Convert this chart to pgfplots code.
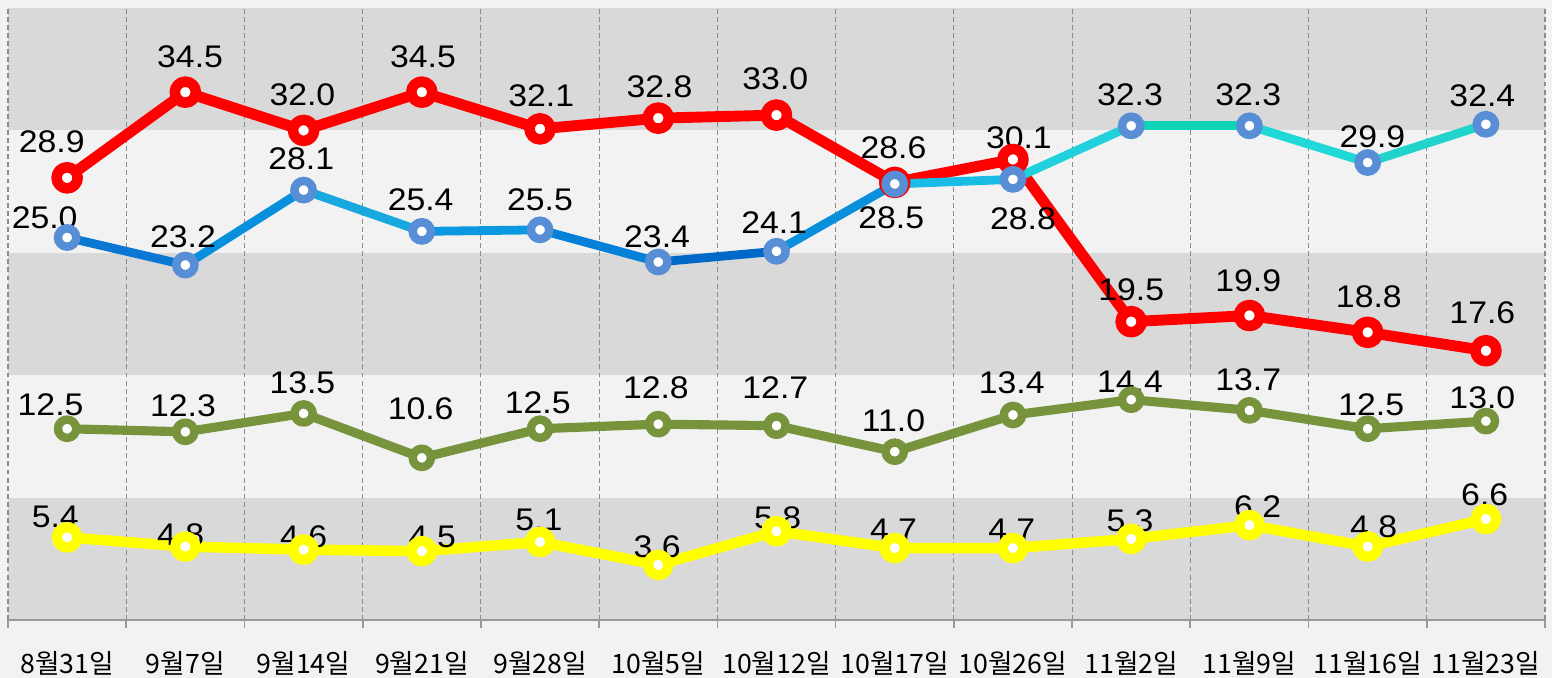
\documentclass[border=0pt]{standalone}
\usepackage{fontspec}
\setmainfont{Liberation Sans}
\newfontfamily\lbl[FakeStretch=1.08]{Liberation Sans}
\newfontfamily\cjk{Noto Sans CJK KR}
\usepackage{pgfplots}
\pgfplotsset{compat=1.18}
\definecolor{bg}{HTML}{F2F2F2}
\definecolor{band}{HTML}{D9D9D9}
\definecolor{gridc}{HTML}{8C8C8C}
\definecolor{axc}{HTML}{999999}
\definecolor{rd}{HTML}{FF0000}
\definecolor{bm}{HTML}{578ED6}
\definecolor{gr}{HTML}{77933C}
\definecolor{yl}{HTML}{FFFF00}
% blue line segments (gradient in the original)
\definecolor{s1}{HTML}{0A78D2}
\definecolor{s2}{HTML}{0890DC}
\definecolor{s3}{HTML}{18A8E0}
\definecolor{s4}{HTML}{0A98E0}
\definecolor{s5}{HTML}{0580D8}
\definecolor{s6}{HTML}{0068C8}
\definecolor{s7}{HTML}{0890DC}
\definecolor{s8}{HTML}{18BCE4}
\definecolor{s9}{HTML}{20D0DC}
\definecolor{s10}{HTML}{10D4B8}
\definecolor{s11}{HTML}{20D8D8}
\definecolor{s12}{HTML}{20D4CC}
\tikzset{
  lab/.style={font=\lbl\fontsize{8.9}{10}\selectfont, inner sep=0pt, anchor=center},
}
\pgfplotsset{
  bseg/.style={line width=2.5pt, line cap=round, mark=none, forget plot},
}

\begin{document}
\begin{tikzpicture}
\begin{axis}[at={(0,0)}, anchor=south west, scale only axis,
  width=15.37cm, height=6.12cm, set layers, clip=false,
  xmin=-0.5, xmax=12.5, ymin=0, ymax=40,
  axis x line*=bottom, axis y line=none,
  axis line style={draw=axc, line width=0.6pt},
  xtick={0,...,12},
  xticklabels={8월31일,9월7일,9월14일,9월21일,9월28일,10월5일,10월12일,10월17일,10월26일,11월2일,11월9일,11월16일,11월23일},
  xticklabel style={font=\cjk\fontsize{7.6}{8}\selectfont, anchor=center, yshift=-0.43cm},
  major tick length=0pt,
  minor xtick={-0.5,0.5,...,12.5},
  minor tick length=0.08cm, tick align=outside,
  tick style={draw=axc, line width=0.5pt},
  xminorgrids=true,
  minor x grid style={draw=gridc, line width=0.3pt, dash pattern=on 1.4pt off 0.9pt},
  ytick=\empty,
]
\begin{pgfonlayer}{axis background}
  \fill[bg] ([shift={(-0.08cm,-0.58cm)}]rel axis cs:0,0) rectangle ([shift={(0.07cm,0.08cm)}]rel axis cs:1,1);
  \fill[band] (axis cs:-0.5,0) rectangle (axis cs:12.5,8);
  \fill[band] (axis cs:-0.5,16) rectangle (axis cs:12.5,24);
  \fill[band] (axis cs:-0.5,32) rectangle (axis cs:12.5,40);
\end{pgfonlayer}

% red
\addplot[rd, line width=3.1pt, line join=round, mark=*, mark size=3.0pt,
  mark options={draw=rd, fill=white, line width=3.0pt}]
  coordinates {(0,28.9)(1,34.5)(2,32.0)(3,34.5)(4,32.1)(5,32.8)(6,33.0)
               (7,28.6)(8,30.1)(9,19.5)(10,19.9)(11,18.8)(12,17.6)};

% blue, drawn segment by segment
\addplot[bseg, s1]  coordinates {(0,25.0)(1,23.2)};
\addplot[bseg, s2]  coordinates {(1,23.2)(2,28.1)};
\addplot[bseg, s3]  coordinates {(2,28.1)(3,25.4)};
\addplot[bseg, s4]  coordinates {(3,25.4)(4,25.5)};
\addplot[bseg, s5]  coordinates {(4,25.5)(5,23.4)};
\addplot[bseg, s6]  coordinates {(5,23.4)(6,24.1)};
\addplot[bseg, s7]  coordinates {(6,24.1)(7,28.5)};
\addplot[bseg, s8]  coordinates {(7,28.5)(8,28.8)};
\addplot[bseg, s9]  coordinates {(8,28.8)(9,32.3)};
\addplot[bseg, s10] coordinates {(9,32.3)(10,32.3)};
\addplot[bseg, s11] coordinates {(10,32.3)(11,29.9)};
\addplot[bseg, s12] coordinates {(11,29.9)(12,32.4)};
\addplot[only marks, mark=*, mark size=2.6pt,
  mark options={draw=bm, fill=white, line width=2.4pt}]
  coordinates {(0,25.0)(1,23.2)(2,28.1)(3,25.4)(4,25.5)(5,23.4)(6,24.1)
               (7,28.5)(8,28.8)(9,32.3)(10,32.3)(11,29.9)(12,32.4)};

% green
\addplot[gr, line width=2.6pt, line join=round, mark=*, mark size=2.6pt,
  mark options={draw=gr, fill=white, line width=2.4pt}]
  coordinates {(0,12.5)(1,12.3)(2,13.5)(3,10.6)(4,12.5)(5,12.8)(6,12.7)
               (7,11.0)(8,13.4)(9,14.4)(10,13.7)(11,12.5)(12,13.0)};

% yellow
\addplot[yl, line width=3.0pt, line join=round, mark=*, mark size=2.9pt,
  mark options={draw=yl, fill=white, line width=2.9pt}]
  coordinates {(0,5.4)(1,4.8)(2,4.6)(3,4.5)(4,5.1)(5,3.6)(6,5.8)
               (7,4.7)(8,4.7)(9,5.3)(10,6.2)(11,4.8)(12,6.6)};

% data labels
\node[lab] at (axis cs:-0.13,31.24) {28.9};
\node[lab] at (axis cs:1.04,36.8) {34.5};
\node[lab] at (axis cs:1.99,34.3) {32.0};
\node[lab] at (axis cs:3.01,36.8) {34.5};
\node[lab] at (axis cs:4.01,34.25) {32.1};
\node[lab] at (axis cs:5.01,34.84) {32.8};
\node[lab] at (axis cs:5.99,35.4) {33.0};
\node[lab] at (axis cs:6.99,30.85) {28.6};
\node[lab] at (axis cs:8.05,31.5) {30.1};
\node[lab] at (axis cs:9.0,21.6) {19.5};
\node[lab] at (axis cs:9.99,22.2) {19.9};
\node[lab] at (axis cs:11.01,21.1) {18.8};
\node[lab] at (axis cs:11.97,20.07) {17.6};

\node[lab] at (axis cs:-0.19,26.27) {25.0};
\node[lab] at (axis cs:0.98,25.03) {23.2};
\node[lab] at (axis cs:1.98,30.13) {28.1};
\node[lab] at (axis cs:2.99,27.45) {25.4};
\node[lab] at (axis cs:4.0,27.45) {25.5};
\node[lab] at (axis cs:4.99,25.03) {23.4};
\node[lab] at (axis cs:5.98,26.0) {24.1};
\node[lab] at (axis cs:6.97,26.3) {28.5};
\node[lab] at (axis cs:8.085,26.2) {28.8};
\node[lab] at (axis cs:8.99,34.3) {32.3};
\node[lab] at (axis cs:9.99,34.3) {32.3};
\node[lab] at (axis cs:11.04,31.57) {29.9};
\node[lab] at (axis cs:11.97,34.25) {32.4};

\node[lab] at (axis cs:-0.14,14.1) {12.5};
\node[lab] at (axis cs:0.98,14.0) {12.3};
\node[lab] at (axis cs:1.99,15.5) {13.5};
\node[lab] at (axis cs:2.99,13.8) {10.6};
\node[lab] at (axis cs:3.98,14.2) {12.5};
\node[lab] at (axis cs:4.98,15.2) {12.8};
\node[lab] at (axis cs:5.99,15.2) {12.7};
\node[lab] at (axis cs:6.99,13.0) {11.0};
\node[lab] at (axis cs:7.99,15.5) {13.4};
\node[lab] at (axis cs:8.99,15.6) {14.4};
\node[lab] at (axis cs:9.99,15.7) {13.7};
\node[lab] at (axis cs:11.03,14.1) {12.5};
\node[lab] at (axis cs:11.97,14.5) {13.0};

\node[lab] at (axis cs:-0.10,6.73) {5.4};
\node[lab] at (axis cs:0.96,5.56) {4.8};
\node[lab] at (axis cs:2.0,5.42) {4.6};
\node[lab] at (axis cs:3.09,5.42) {4.5};
\node[lab] at (axis cs:3.99,6.54) {5.1};
\node[lab] at (axis cs:4.99,4.77) {3.6};
\node[lab] at (axis cs:6.01,6.67) {5.8};
\node[lab] at (axis cs:6.99,5.88) {4.7};
\node[lab] at (axis cs:7.99,5.88) {4.7};
\node[lab] at (axis cs:8.99,6.47) {5.3};
\node[lab] at (axis cs:10.07,7.39) {6.2};
\node[lab] at (axis cs:11.05,6.08) {4.8};
\node[lab] at (axis cs:11.99,8.17) {6.6};
\end{axis}
\pgfresetboundingbox
\useasboundingbox (-0.08,-0.58) rectangle (15.44,6.20);
\end{tikzpicture}
\end{document}
